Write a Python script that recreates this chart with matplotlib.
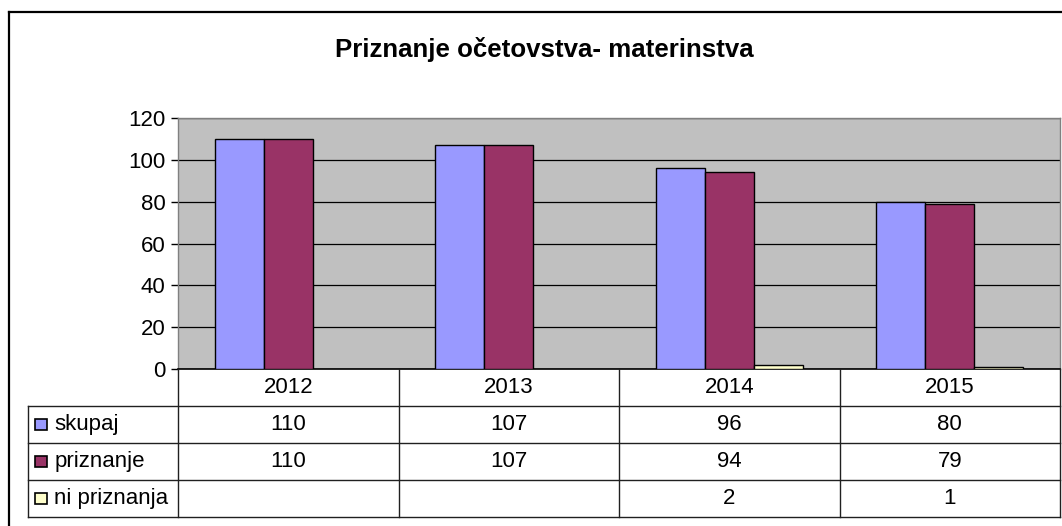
import matplotlib.pyplot as plt
import numpy as np
from matplotlib.lines import Line2D
from matplotlib.patches import Rectangle

# Data
years = ["2012", "2013", "2014", "2015"]
skupaj = [110, 107, 96, 80]
priznanje = [110, 107, 94, 79]
ni_priznanja = [np.nan, np.nan, 2, 1]

series = [
    ("skupaj", skupaj, "#9999FF"),
    ("priznanje", priznanje, "#993366"),
    ("ni priznanja", ni_priznanja, "#FFFFCC"),
]

plt.rcParams["font.family"] = ["Liberation Sans", "DejaVu Sans"]

W, H = 1062, 526
fig = plt.figure(figsize=(W / 100, H / 100), dpi=100)


def px(x0, y0, x1, y1):
    # pixel box -> figure fraction rect
    return [x0 / W, 1 - y1 / H, (x1 - x0) / W, (y1 - y0) / H]


# Outer chart border (cut off at right/bottom)
fig.add_artist(Line2D([9 / W, 9 / W], [0, 1 - 12 / H], color="black", lw=1.6,
                      transform=fig.transFigure))
fig.add_artist(Line2D([9 / W, 1], [1 - 12 / H, 1 - 12 / H], color="black", lw=1.6,
                      transform=fig.transFigure))

fig.text(544 / W, 1 - 57 / H, "Priznanje očetovstva- materinstva",
         ha="center", va="baseline", fontsize=18.6, fontweight="bold")

# Main plot area
ax = fig.add_axes(px(178, 118, 1060, 369))
ax.set_facecolor("#C0C0C0")
x = np.arange(len(years))
bw = 0.222
for i, (name, vals, col) in enumerate(series):
    ax.bar(x + (i - 1) * bw, vals, width=bw, color=col, edgecolor="black",
           linewidth=1, zorder=3)

ax.set_xlim(-0.5, len(years) - 0.5)
ax.set_ylim(0, 120)
ax.set_yticks(range(0, 121, 20))
ax.yaxis.grid(True, color="black", linewidth=0.9, zorder=1)
ax.set_axisbelow(True)
ax.set_xticks([])
ax.tick_params(axis="y", labelsize=16, length=5, width=1, color="black", pad=4)
for s in ["top", "right", "left"]:
    ax.spines[s].set_color("#808080")
    ax.spines[s].set_linewidth(1)
ax.spines["bottom"].set_color("black")
ax.spines["bottom"].set_linewidth(1.2)

# Data table below
tab = fig.add_axes(px(28, 369, 1060, 517))
left = -0.5 - 150 / 220.5
tab.set_xlim(left, len(years) - 0.5)
tab.set_ylim(4, 0)
tab.axis("off")
lc = "#202020"
for r in range(1, 5):
    tab.plot([left, len(years) - 0.5], [r, r], color=lc, lw=1, clip_on=False)
for b in np.arange(len(years) + 1) - 0.5:
    tab.plot([b, b], [0, 4], color=lc, lw=1, clip_on=False)
tab.plot([left, left], [1, 4], color=lc, lw=1, clip_on=False)

for j, yr in enumerate(years):
    tab.text(j, 0.5, yr, ha="center", va="center", fontsize=16)

for i, (name, vals, col) in enumerate(series):
    row = i + 1.5
    tab.add_patch(Rectangle((left + 0.032, row - 0.16), 0.052, 0.32,
                            facecolor=col, edgecolor="black", lw=1.2))
    tab.text(left + 0.12, row, name, ha="left", va="center", fontsize=16)
    for j, v in enumerate(vals):
        if not np.isnan(v):
            tab.text(j, row, f"{v:g}", ha="center", va="center", fontsize=16)

fig.savefig("out.png", dpi=100)
